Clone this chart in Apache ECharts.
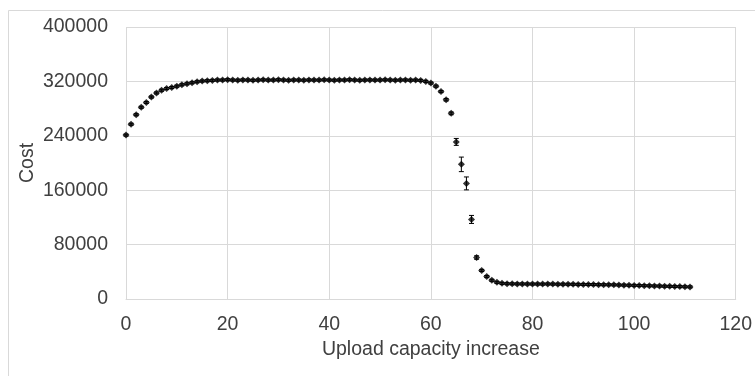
<!DOCTYPE html>
<html>
<head>
<meta charset="utf-8">
<script src="https://cdn.jsdelivr.net/npm/echarts@6/dist/echarts.min.js"></script>
<style>html,body{margin:0;padding:0;background:#fff;}#c{width:755px;height:376px;}</style>
</head>
<body>
<div id="c"></div>
<script>
// x values: 0..111 (upload capacity increase)
var xValues = [];
for (var i = 0; i <= 111; i++) xValues.push(i);

var costs = [
  241000, 257000, 271000, 282000, 289000, 297000, 303000, 307000, 309500, 311000,
  313000, 315000, 316500, 318000, 319500, 320500, 321000, 321500, 322000, 322000,
  322500, 322000, 321800, 322200, 322000, 321600, 322000, 322300, 321900, 322000,
  322400, 322000, 321700, 322100, 322000, 321800, 322200, 322000, 321900, 322300,
  322000, 321800, 322100, 322000, 322400, 322000, 321700, 322000, 322200, 321900,
  322000, 322300, 322000, 321800, 322000, 322100, 321800, 321900, 321500, 320000,
  317500, 313000, 305000, 293000, 273000, 231000, 198000, 170000, 117000, 61000,
  42000, 33000, 27500, 24500, 23000, 22500, 22300, 22200, 22200, 22100,
  22000, 22000, 21900, 22100, 21900, 21800, 21800, 21700, 21600, 21500,
  21400, 21300, 21200, 21100, 21000, 20900, 20800, 20600, 20400, 20200,
  20000, 19800, 19600, 19400, 19200, 19000, 18800, 18600, 18400, 18200,
  18000, 17800
];

var errors = [
  1500, 1500, 1500, 1500, 1500, 1500, 1500, 1500, 1500, 1500,
  1500, 1500, 1500, 1500, 1500, 1500, 1500, 1500, 1500, 1500,
  1500, 1500, 1500, 1500, 1500, 1500, 1500, 1500, 1500, 1500,
  1500, 1500, 1500, 1500, 1500, 1500, 1500, 1500, 1500, 1500,
  1500, 1500, 1500, 1500, 1500, 1500, 1500, 1500, 1500, 1500,
  1500, 1500, 1500, 1500, 1500, 1500, 1500, 1500, 1500, 1500,
  1500, 1500, 1500, 1800, 2000, 5100, 10700, 9500, 5900, 2500,
  1500, 1500, 1500, 1500, 1500, 1500, 1500, 1500, 1500, 1500,
  1500, 1500, 1500, 1500, 1500, 1500, 1500, 1500, 1500, 1500,
  1500, 1500, 1500, 1500, 1500, 1500, 1500, 1500, 1500, 1500,
  1500, 1500, 1500, 1500, 1500, 1500, 1500, 1500, 1500, 1500,
  1500, 1500
];

var xTicks = { min: 0, max: 120, interval: 20 };
var yTicks = { min: 0, max: 400000, interval: 80000 };

var pointData = xValues.map(function (x, i) { return [x, costs[i]]; });
var errData = xValues.map(function (x, i) { return [x, costs[i], errors[i]]; });

var FONT = 'Liberation Sans, Arial, sans-serif';
var TXT = '#404040';
var GRID = '#d9d9d9';

var chart = echarts.init(document.getElementById('c'), null, { renderer: 'canvas' });
chart.setOption({
  animation: false,
  backgroundColor: '#fff',
  graphic: [{
    type: 'rect', z: -10, silent: true,
    shape: { x: 8.5, y: 10.5, width: 800, height: 400 },
    style: { fill: 'none', stroke: GRID, lineWidth: 1 }
  }],
  grid: { left: 126, right: 14, top: 27, bottom: 77 },
  xAxis: {
    type: 'value', min: xTicks.min, max: xTicks.max, interval: xTicks.interval,
    name: 'Upload capacity increase', nameLocation: 'middle', nameGap: 41,
    nameMoveOverlap: false,
    nameTextStyle: { color: TXT, fontSize: 19.5, fontFamily: FONT },
    axisLine: { show: true, lineStyle: { color: GRID, width: 1 } },
    axisTick: { show: false },
    axisLabel: { color: TXT, fontSize: 19.5, fontFamily: FONT, margin: 16 },
    splitLine: { show: true, lineStyle: { color: GRID, width: 1 } }
  },
  yAxis: {
    type: 'value', min: yTicks.min, max: yTicks.max, interval: yTicks.interval,
    name: 'Cost', nameLocation: 'middle', nameGap: 88, nameRotate: 90,
    nameMoveOverlap: false,
    nameTextStyle: { color: TXT, fontSize: 19.5, fontFamily: FONT },
    axisLine: { show: false },
    axisTick: { show: false },
    axisLabel: { color: TXT, fontSize: 19.5, fontFamily: FONT, margin: 18,
      formatter: function (v) { return String(v); } },
    splitLine: { show: true, lineStyle: { color: GRID, width: 1 } }
  },
  series: [
    {
      type: 'custom',
      data: errData,
      z: 3,
      renderItem: function (params, api) {
        var x = api.value(0), y = api.value(1), e = api.value(2);
        var top = api.coord([x, y + e]);
        var bot = api.coord([x, y - e]);
        var hw = 2.5;
        var st = { stroke: '#000', lineWidth: 1 };
        return {
          type: 'group',
          children: [
            { type: 'line', shape: { x1: top[0], y1: top[1], x2: bot[0], y2: bot[1] }, style: st },
            { type: 'line', shape: { x1: top[0] - hw, y1: top[1], x2: top[0] + hw, y2: top[1] }, style: st },
            { type: 'line', shape: { x1: bot[0] - hw, y1: bot[1], x2: bot[0] + hw, y2: bot[1] }, style: st }
          ]
        };
      }
    },
    {
      type: 'scatter',
      data: pointData,
      symbol: 'diamond',
      symbolSize: 7,
      z: 4,
      itemStyle: { color: '#000' }
    }
  ]
});
</script>
</body>
</html>
